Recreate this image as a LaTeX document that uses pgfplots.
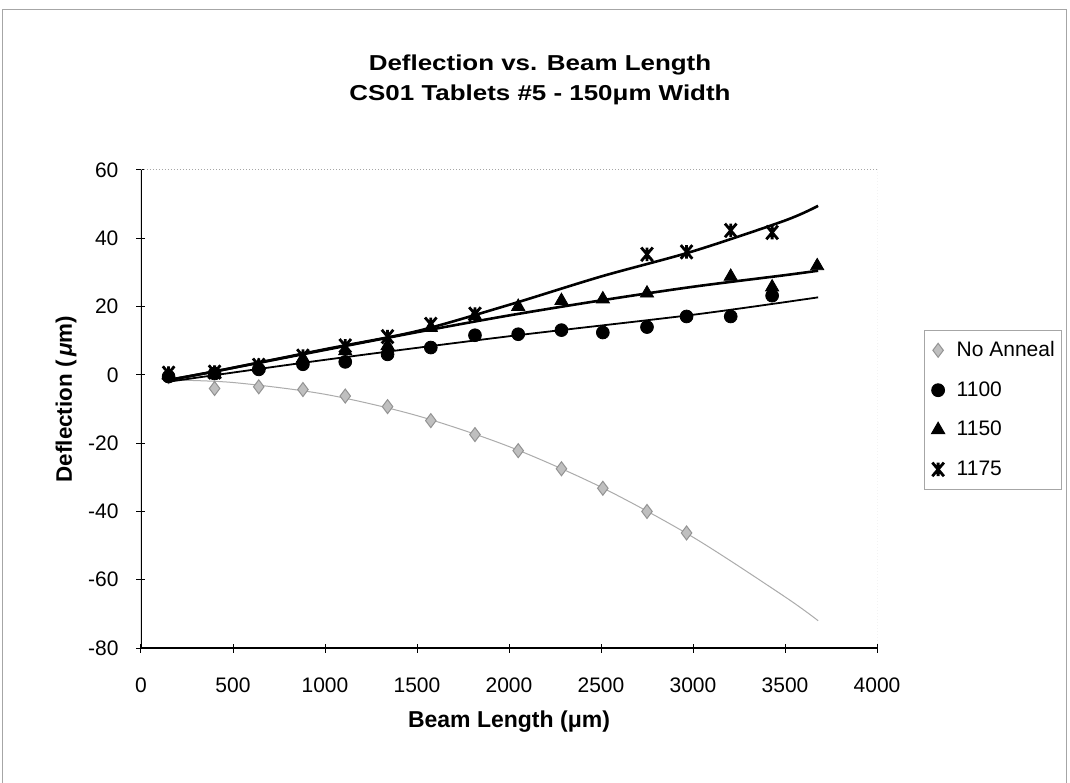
\documentclass[border=0pt]{standalone}
\usepackage{fontspec}
\setmainfont{Liberation Sans}
\newfontfamily\widefont[FakeStretch=1.2]{Liberation Sans}
\usepackage{pgfplots}
\pgfplotsset{compat=1.18}

\pgfdeclareplotmark{xstar}{%
  \pgfpathmoveto{\pgfqpoint{-0.85\pgfplotmarksize}{-\pgfplotmarksize}}%
  \pgfpathlineto{\pgfqpoint{0.85\pgfplotmarksize}{\pgfplotmarksize}}%
  \pgfpathmoveto{\pgfqpoint{-0.85\pgfplotmarksize}{\pgfplotmarksize}}%
  \pgfpathlineto{\pgfqpoint{0.85\pgfplotmarksize}{-\pgfplotmarksize}}%
  \pgfpathmoveto{\pgfqpoint{0pt}{-\pgfplotmarksize}}%
  \pgfpathlineto{\pgfqpoint{0pt}{\pgfplotmarksize}}%
  \pgfusepathqstroke}

\pgfplotsset{mkleg/.style={legend image code/.code={\draw[##1] plot coordinates {(0pt,0pt)};}}}

\pgfplotstableread{
x y
150 -0.5
400 -4.0
640 -3.5
880 -4.3
1110 -6.2
1340 -9.3
1575 -13.4
1815 -17.5
2050 -22.2
2285 -27.5
2510 -33.2
2750 -40.0
2965 -46.3
}\noanneal

\pgfplotstableread{
x y
150 -0.5
400 0.4
640 1.6
880 3.1
1110 3.8
1340 6.0
1575 8.0
1815 11.6
2050 11.9
2285 13.1
2510 12.4
2750 14.0
2965 17.1
3205 17.1
3430 23.2
}\tA

\pgfplotstableread{
x y
150 0.0
400 0.3
640 2.6
880 4.8
1110 7.0
1340 8.5
1575 13.8
1815 17.3
2050 20.0
2285 21.7
2510 22.2
2750 23.9
3205 28.8
3430 25.7
3675 31.9
}\tB

\pgfplotstableread{
x y
150 0.5
400 0.8
640 2.8
880 5.5
1110 8.5
1340 11.2
1575 14.8
1815 17.8
2750 35.3
2965 36.0
3205 42.3
3430 41.7
}\tC

\pgfplotstableread{
x y
150 -1.5
500 -2.24
1000 -5.69
1500 -11.94
2000 -21.0
2500 -32.87
3000 -47.54
3500 -65.02
3680 -72.0
}\fitN

\pgfplotstableread{
x y
150 -2.0
1000 4.4
2000 11.3
3000 17.6
3680 22.7
}\fitA

\pgfplotstableread{
x y
150 -1.5
400 1.0
1000 7.3
1500 12.5
2000 17.4
2500 21.8
3000 25.8
3500 29.2
3680 30.5
}\fitB

\pgfplotstableread{
x y
150 -1.5
400 1.0
1000 7.5
1500 12.8
2000 20.5
2500 28.8
3000 36.2
3500 45.2
3680 49.5
}\fitC

\begin{document}
\begin{tikzpicture}
\useasboundingbox (-70.5pt,-67pt) rectangle (464.5pt,324pt);
\fill[white] (-70.5pt,-67pt) rectangle (464.5pt,324pt);
\draw[gray!70, line width=0.5pt] (-69pt,-80pt) -- (-69pt,319pt) -- (462.5pt,319pt) -- (462.5pt,-80pt);
\begin{axis}[
  at={(0pt,0pt)}, anchor=south west,
  scale only axis, width=368pt, height=239pt,
  xmin=0, xmax=4000, ymin=-80, ymax=60,
  xtick={0,500,...,4000}, ytick={-80,-60,...,60},
  xtick pos=bottom, ytick pos=left,
  axis line style={draw=none},
  tick align=center, major tick length=4.5pt,
  tick style={black, line width=0.5pt},
  minor tick num=0,
  scaled x ticks=false, scaled y ticks=false,
  /pgf/number format/assume math mode=true,
  /pgf/number format/1000 sep={},
  ticklabel style={font=\fontsize{10.5}{12}\selectfont},
  xticklabel style={anchor=base, yshift=-20pt},
  yticklabel style={anchor=east, xshift=-5.5pt},
  xlabel={Beam Length (μm)},
  ylabel={Deflection (\,\textit{μ}m)},
  xlabel style={at={(axis description cs:0.5,-0.1653)}, anchor=base, font=\bfseries\fontsize{11.5}{13}\selectfont},
  ylabel style={at={(axis description cs:-0.09375,0.521)}, anchor=base, font=\bfseries\fontsize{11.2}{13}\selectfont},
  legend style={at={(axis description cs:1.0639,0.666)}, anchor=north west,
    draw=gray!70, line width=0.5pt, font=\fontsize{10.5}{12}\selectfont,
    inner xsep=3.5pt, inner ysep=5.5pt, row sep=11pt, column sep=6pt,
    nodes={inner sep=0pt}},
  legend cell align=left,
]
\draw[gray!70, densely dotted, line width=0.5pt] (rel axis cs:0,1) -- (rel axis cs:1,1) -- (rel axis cs:1,0);
\draw[black, line width=0.6pt] (rel axis cs:0,1) -- (rel axis cs:0,0) -- (rel axis cs:1,0);

\addplot[forget plot, gray!65, line width=0.5pt, smooth] table[x=x,y=y] {\fitN};
\addplot[forget plot, black, line width=0.9pt, smooth] table[x=x,y=y] {\fitA};
\addplot[forget plot, black, line width=1.3pt, smooth] table[x=x,y=y] {\fitB};
\addplot[forget plot, black, line width=1.3pt, smooth] table[x=x,y=y] {\fitC};

\addplot[only marks, mkleg, mark=diamond*, mark size=3.5pt, mark options={fill=gray!50, draw=gray!85, line width=0.5pt}] table[x=x,y=y] {\noanneal};
\addlegendentry{No Anneal}
\addplot[only marks, mkleg, mark=*, mark size=3.2pt, mark options={fill=black, draw=black}] table[x=x,y=y] {\tA};
\addlegendentry{1100}
\addplot[only marks, mkleg, mark=triangle*, mark size=3.8pt, mark options={fill=black, draw=black}] table[x=x,y=y] {\tB};
\addlegendentry{1150}
\addplot[only marks, mkleg, mark=xstar, mark size=3.4pt, mark options={draw=black, line width=1.4pt}] table[x=x,y=y] {\tC};
\addlegendentry{1175}
\end{axis}
\node[anchor=base, font=\widefont\bfseries\fontsize{10.8}{13}\selectfont] at (199.5pt,288.5pt) {Deflection vs. Beam Length};
\node[anchor=base, font=\widefont\bfseries\fontsize{10.8}{13}\selectfont] at (199.5pt,273.5pt) {CS01 Tablets \#5 - 150μm Width};
\end{tikzpicture}
\end{document}
